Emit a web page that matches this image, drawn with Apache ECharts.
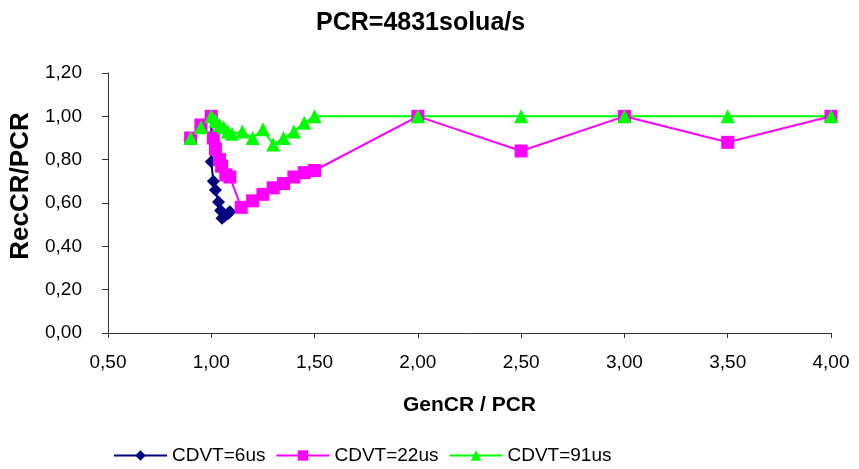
<!DOCTYPE html>
<html>
<head>
<meta charset="utf-8">
<script src="https://cdn.jsdelivr.net/npm/echarts@6/dist/echarts.min.js"></script>
<style>html,body{margin:0;padding:0;background:#fff}#c{width:859px;height:469px}</style>
</head>
<body>
<div id="c"></div>
<script>
var titleText = 'PCR=4831solua/s';
var xName = 'GenCR / PCR';
var yName = 'RecCR/PCR';
var seriesNames = ['CDVT=6us', 'CDVT=22us', 'CDVT=91us'];

var x6 = [0.90, 0.95, 1.00, 1.00, 1.01, 1.02, 1.035, 1.045, 1.052, 1.065, 1.08, 1.09];
var y6 = [0.90, 0.95, 1.00, 0.79, 0.70, 0.66, 0.605, 0.565, 0.53, 0.54, 0.55, 0.56];

var x22 = [0.90, 0.95, 1.00, 1.01, 1.02, 1.04, 1.05, 1.07, 1.09, 1.145, 1.20, 1.25, 1.30, 1.35, 1.40, 1.45, 1.50, 2.00, 2.50, 3.00, 3.50, 4.00];
var y22 = [0.90, 0.96, 1.00, 0.90, 0.85, 0.80, 0.77, 0.73, 0.72, 0.58, 0.61, 0.64, 0.67, 0.69, 0.72, 0.74, 0.75, 1.00, 0.84, 1.00, 0.88, 1.00];

var x91 = [0.90, 0.95, 1.00, 1.02, 1.04, 1.06, 1.08, 1.10, 1.15, 1.20, 1.25, 1.30, 1.35, 1.40, 1.45, 1.50, 2.00, 2.50, 3.00, 3.50, 4.00];
var y91 = [0.90, 0.95, 1.00, 0.98, 0.96, 0.95, 0.93, 0.92, 0.93, 0.90, 0.94, 0.87, 0.90, 0.93, 0.97, 1.00, 1.00, 1.00, 1.00, 1.00, 1.00];

var xTicks = [0.5, 1.0, 1.5, 2.0, 2.5, 3.0, 3.5, 4.0];
var yTicks = [0, 0.2, 0.4, 0.6, 0.8, 1.0, 1.2];

function pairs(xs, ys) { return xs.map(function (v, i) { return [v, ys[i]]; }); }
function comma(v) { return v.toFixed(2).replace('.', ','); }

var FONT = 'Liberation Sans, Arial, sans-serif';
var chart = echarts.init(document.getElementById('c'), null, { renderer: 'canvas' });
chart.setOption({
  animation: false,
  backgroundColor: '#ffffff',
  title: {
    text: titleText,
    left: 311, top: 6,
    textStyle: { fontFamily: FONT, fontSize: 25, fontWeight: 'bold', color: '#000' }
  },
  legend: {
    left: 108, top: 441,
    itemWidth: 53, itemHeight: 13, itemGap: 10,
    textStyle: { fontFamily: FONT, fontSize: 19, color: '#000' },
    data: seriesNames
  },
  grid: { left: 106, right: 28, top: 73, bottom: 136, containLabel: false },
  xAxis: {
    type: 'value', min: xTicks[0], max: xTicks[xTicks.length - 1], interval: 0.5,
    name: xName, nameLocation: 'middle', nameGap: 62,
    nameTextStyle: { fontFamily: FONT, fontSize: 21, fontWeight: 'bold', color: '#000', verticalAlign: 'top' },
    axisLine: { lineStyle: { color: '#333', width: 1 } },
    axisTick: { show: true, length: 5, lineStyle: { color: '#333' } },
    axisLabel: { fontFamily: FONT, fontSize: 19, color: '#000', margin: 20, formatter: comma },
    splitLine: { show: false }
  },
  yAxis: {
    type: 'value', min: yTicks[0], max: yTicks[yTicks.length - 1], interval: 0.2,
    name: yName, nameLocation: 'middle', nameGap: 74,
    nameTextStyle: { fontFamily: FONT, fontSize: 26, fontWeight: 'bold', color: '#000', padding: [0, 0, 0, 34] },
    axisLine: { show: true, lineStyle: { color: '#333', width: 1 } },
    axisTick: { show: true, length: 6, lineStyle: { color: '#333' } },
    axisLabel: { fontFamily: FONT, fontSize: 19, color: '#000', margin: 26, formatter: comma },
    splitLine: { show: false }
  },
  series: [
    { name: seriesNames[0], type: 'line', data: pairs(x6, y6), symbol: 'diamond', symbolSize: 13,
      itemStyle: { color: '#000080' }, lineStyle: { color: '#000080', width: 2 } },
    { name: seriesNames[1], type: 'line', data: pairs(x22, y22), symbol: 'rect', symbolSize: 13,
      itemStyle: { color: '#FF00FF' }, lineStyle: { color: '#FF00FF', width: 2 } },
    { name: seriesNames[2], type: 'line', data: pairs(x91, y91), symbol: 'triangle', symbolSize: 14,
      itemStyle: { color: '#00FF00' }, lineStyle: { color: '#00FF00', width: 2 } }
  ]
});
</script>
</body>
</html>
